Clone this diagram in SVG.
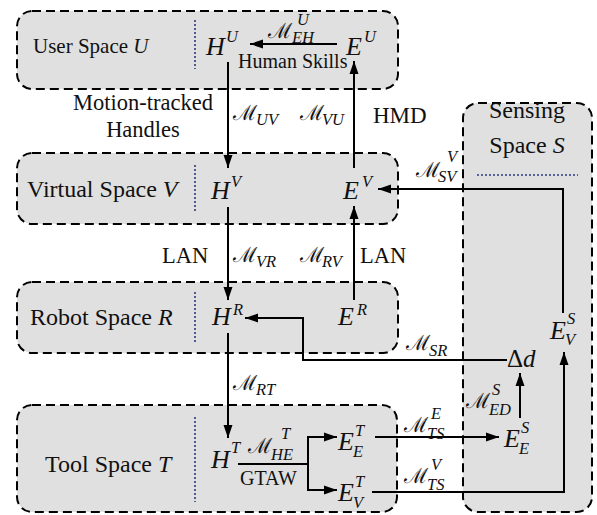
<svg xmlns="http://www.w3.org/2000/svg" width="597" height="515" viewBox="0 0 597 515" font-family="'Liberation Serif', 'Times New Roman', 'DejaVu Serif', serif">
<defs>
<marker id="ah" markerUnits="userSpaceOnUse" markerWidth="15" markerHeight="10" refX="13" refY="5" orient="auto"><path d="M0,0.5 L13,5 L0,9.5 z" fill="#000"/></marker>
<style>
.box{fill:#e0e0e0;stroke:#000;stroke-width:2;stroke-dasharray:9 5}
.sep{stroke:#2d3a80;stroke-width:1.6;stroke-dasharray:2 2;fill:none}
.ln{fill:none;stroke:#000;stroke-width:2}
.ar{fill:none;stroke:#000;stroke-width:2;marker-end:url(#ah)}
text{fill:#111}
.mi{font-style:italic;font-size:26px}
.s{font-style:italic;font-size:16.5px}
.sc{font-size:21px}
</style>
</defs>
<g id="user-space">
<rect class="box" x="17" y="11" width="381" height="78" rx="15"/>
<line class="sep" x1="195" y1="20" x2="195" y2="69"/>
<text x="33" y="53" font-size="21">User Space <tspan font-style="italic">U</tspan></text>
</g>
<g id="virtual-space">
<rect class="box" x="17" y="153" width="381" height="71" rx="15"/>
<line class="sep" x1="195" y1="165" x2="195" y2="213"/>
<text x="27" y="197" font-size="24">Virtual Space <tspan font-style="italic">V</tspan></text>
</g>
<g id="robot-space">
<rect class="box" x="17" y="282" width="381" height="71" rx="15"/>
<line class="sep" x1="195" y1="292" x2="195" y2="342"/>
<text x="30" y="325" font-size="24">Robot Space <tspan font-style="italic">R</tspan></text>
</g>
<g id="tool-space">
<rect class="box" x="17" y="405" width="380" height="107" rx="15"/>
<line class="sep" x1="195" y1="417" x2="195" y2="502"/>
<text x="45" y="472" font-size="24">Tool Space <tspan font-style="italic">T</tspan></text>
</g>
<g id="sensing-space">
<rect class="box" x="463" y="103" width="129" height="409" rx="15"/>
<line class="sep" x1="477" y1="175" x2="578" y2="175"/>
<text x="527" y="118" font-size="24" text-anchor="middle">Sensing</text>
<text x="527" y="153" font-size="24" text-anchor="middle">Space <tspan font-style="italic">S</tspan></text>
</g>
<g id="H-U"><text class="mi" x="206" y="55">H</text><text class="s" x="226" y="42">U</text></g>
<g id="E-U"><text class="mi" x="346" y="55">E</text><text class="s" x="364" y="42">U</text></g>
<g id="H-V"><text class="mi" x="211" y="199">H</text><text class="s" x="231" y="187">V</text></g>
<g id="E-V"><text class="mi" x="343" y="199">E</text><text class="s" x="362" y="187">V</text></g>
<g id="H-R"><text class="mi" x="212" y="325">H</text><text class="s" x="233" y="315">R</text></g>
<g id="E-R"><text class="mi" x="338" y="325">E</text><text class="s" x="357" y="315">R</text></g>
<g id="H-T"><text class="mi" x="211" y="468">H</text><text class="s" x="231" y="453">T</text></g>
<g id="E-T-E"><text class="mi" x="338" y="450">E</text><text class="s" x="355" y="436">T</text><text class="s" x="353" y="457">E</text></g>
<g id="E-T-V"><text class="mi" x="338" y="501">E</text><text class="s" x="355" y="487">T</text><text class="s" x="353" y="508">V</text></g>
<g id="E-S-E"><text class="mi" x="504" y="447">E</text><text class="s" x="521" y="433">S</text><text class="s" x="519" y="454">E</text></g>
<g id="E-S-V"><text class="mi" x="550" y="339">E</text><text class="s" x="567" y="324">S</text><text class="s" x="565" y="345">V</text></g>
<g id="delta-d"><text x="507" y="367" font-size="25">Δ<tspan font-style="italic">d</tspan></text></g>
<g id="connectors">
<path class="ar" d="M337,44 H250"/>
<path class="ar" d="M228,62 V168"/>
<path class="ar" d="M354,168 V61"/>
<path class="ar" d="M228,207 V300"/>
<path class="ar" d="M354,300 V206"/>
<path class="ar" d="M228,333 V438"/>
<path class="ln" d="M238,464 H308"/>
<path class="ar" d="M308,464 V437 H337"/>
<path class="ar" d="M308,464 V490 H337"/>
<path class="ar" d="M375,437 H499"/>
<path class="ar" d="M372,492 H564 V352"/>
<path class="ar" d="M520,418 V373"/>
<path class="ar" d="M507,360 H303 V318 H245"/>
<path class="ar" d="M563,313 V189 H378"/>
<text class="sc" x="268" y="38">ℳ</text><text class="s" x="297" y="25">U</text><text class="s" x="292" y="43">EH</text>
<text x="238" y="68" font-size="20">Human Skills</text>
<text x="143" y="110" font-size="22.5" text-anchor="middle">Motion-tracked</text>
<text x="143" y="137" font-size="22.5" text-anchor="middle">Handles</text>
<text class="sc" x="233" y="120">ℳ</text><text class="s" x="256" y="125">UV</text>
<text class="sc" x="300" y="120">ℳ</text><text class="s" x="322" y="125">VU</text>
<text x="373" y="123" font-size="23">HMD</text>
<text x="162" y="263" font-size="22.5">LAN</text>
<text class="sc" x="233" y="262">ℳ</text><text class="s" x="256" y="267">VR</text>
<text class="sc" x="300" y="262">ℳ</text><text class="s" x="322" y="267">RV</text>
<text x="360" y="263" font-size="22.5">LAN</text>
<text class="sc" x="233" y="390">ℳ</text><text class="s" x="256" y="395">RT</text>
<text class="sc" x="406" y="350">ℳ</text><text class="s" x="429" y="356">SR</text>
<text class="sc" x="416" y="177">ℳ</text><text class="s" x="447" y="162">V</text><text class="s" x="438" y="182">SV</text>
<text class="sc" x="248" y="453">ℳ</text><text class="s" x="281" y="439">T</text><text class="s" x="271" y="460">HE</text>
<text x="240" y="485" font-size="20">GTAW</text>
<text class="sc" x="404" y="432">ℳ</text><text class="s" x="431" y="419">E</text><text class="s" x="427" y="439">TS</text>
<text class="sc" x="404" y="483">ℳ</text><text class="s" x="431" y="470">V</text><text class="s" x="427" y="490">TS</text>
<text class="sc" x="466" y="408">ℳ</text><text class="s" x="492" y="395">S</text><text class="s" x="489" y="415">ED</text>
</g>
</svg>
